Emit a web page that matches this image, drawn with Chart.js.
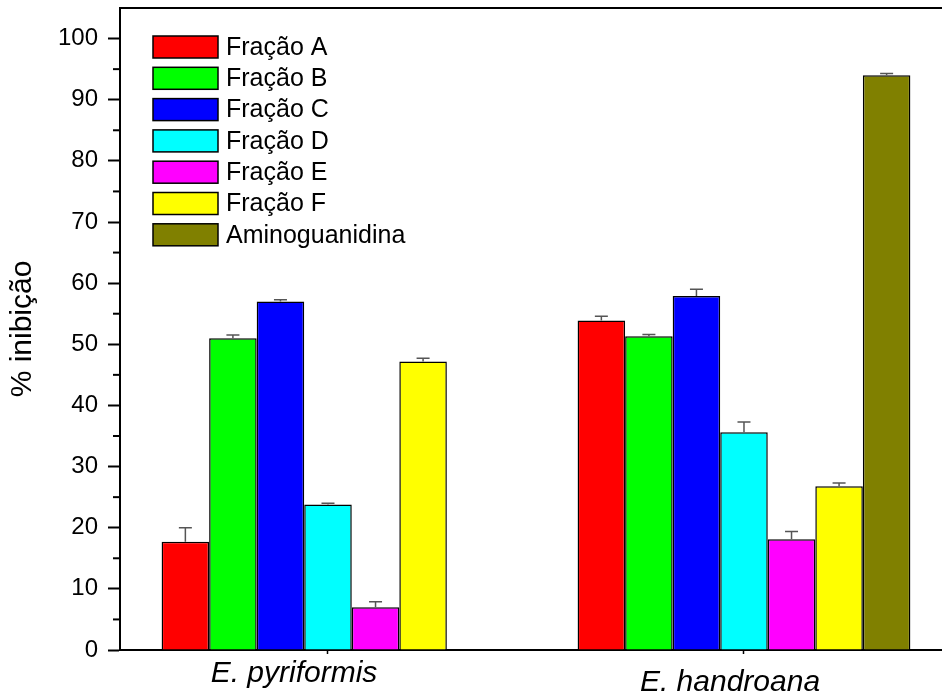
<!DOCTYPE html>
<html>
<head>
<meta charset="utf-8">
<script src="https://cdn.jsdelivr.net/npm/chart.js@4.4.0/dist/chart.umd.min.js"></script>
<style>
  body { margin: 0; background: #fff; }
  #wrap { width: 942px; height: 696px; position: relative; }
</style>
</head>
<body>
<div id="wrap"><canvas id="chart"></canvas></div>
<script>
// categories on the x axis
const species = ["E. pyriformis", "E. handroana"]

// one series per fraction (% inhibition) and its error (upper bar only)
const seriesNames = ["Fração A", "Fração B", "Fração C", "Fração D", "Fração E", "Fração F", "Aminoguanidina"]
const fracaoA = [17.7, 53.9]
const fracaoB = [51.0, 51.3]
const fracaoC = [57.0, 57.9]
const fracaoD = [23.8, 35.6]
const fracaoE = [7.0, 18.1]
const fracaoF = [47.2, 26.8]
const aminoguanidina = [null, 94.0]

const errA = [2.3, 0.7]
const errB = [0.5, 0.3]
const errC = [0.3, 1.1]
const errD = [0.2, 1.7]
const errE = [0.9, 1.3]
const errF = [0.5, 0.5]
const errAmino = [null, 0.3]

const yTicks = [0, 10, 20, 30, 40, 50, 60, 70, 80, 90, 100]

const values = [fracaoA, fracaoB, fracaoC, fracaoD, fracaoE, fracaoF, aminoguanidina]
const errors = [errA, errB, errC, errD, errE, errF, errAmino]
const colors = ["#ff0000", "#00ff00", "#0000ff", "#00ffff", "#ff00ff", "#ffff00", "#808000"]

const FONT = "'Liberation Sans', Arial, sans-serif"

const datasets = seriesNames.map((name, k) => ({
  label: name,
  data: values[k].map((v, i) => ({ x: i, y: v })),
  errors: errors[k],
  backgroundColor: colors[k],
  borderColor: "#000",
  borderWidth: 1.5,
  barPercentage: 1.0,
  categoryPercentage: 0.8
}))

// upper error bars
const errorBars = {
  id: "errorBars",
  afterDatasetsDraw(chart) {
    const ctx = chart.ctx
    const y = chart.scales.y
    ctx.save()
    ctx.strokeStyle = "#555"
    ctx.lineWidth = 1.5
    chart.data.datasets.forEach((ds, k) => {
      const meta = chart.getDatasetMeta(k)
      meta.data.forEach((bar, i) => {
        const v = ds.data[i].y
        const e = ds.errors[i]
        if (v == null || e == null) return
        const top = y.getPixelForValue(v + e)
        ctx.beginPath()
        ctx.moveTo(bar.x, bar.y)
        ctx.lineTo(bar.x, top)
        ctx.moveTo(bar.x - 6.5, top)
        ctx.lineTo(bar.x + 6.5, top)
        ctx.stroke()
      })
    })
    ctx.restore()
  }
}

// frame top, minor ticks, category labels, legend
const decor = {
  id: "decor",
  afterDraw(chart, args, opts) {
    const ctx = chart.ctx
    const area = chart.chartArea
    const y = chart.scales.y
    const x = chart.scales.x
    ctx.save()
    ctx.strokeStyle = "#000"
    ctx.lineWidth = 2
    ctx.beginPath()
    ctx.moveTo(area.left - 1, area.top)
    ctx.lineTo(area.right, area.top)
    ctx.stroke()

    ctx.lineWidth = 2
    for (let v = 5; v < 100; v += 10) {
      const py = y.getPixelForValue(v)
      ctx.beginPath()
      ctx.moveTo(area.left - 7, py)
      ctx.lineTo(area.left, py)
      ctx.stroke()
    }

    ctx.fillStyle = "#000"
    ctx.font = "italic 30px " + FONT
    ctx.textAlign = "center"
    ctx.textBaseline = "alphabetic"
    species.forEach((s, i) => {
      ctx.fillText(s, x.getPixelForValue(i) + opts.labelDx[i], area.bottom + opts.labelDy[i])
    })

    ctx.font = "25px " + FONT
    ctx.textAlign = "left"
    ctx.textBaseline = "middle"
    ctx.lineWidth = 1.5
    chart.data.datasets.forEach((ds, k) => {
      const cy = opts.legendTop + k * opts.legendStep
      ctx.fillStyle = ds.backgroundColor
      ctx.fillRect(opts.legendX, cy - 11, 65, 22)
      ctx.strokeRect(opts.legendX, cy - 11, 65, 22)
      ctx.fillStyle = "#000"
      ctx.fillText(ds.label, opts.legendX + 73, cy + 1)
    })
    ctx.restore()
  }
}

new Chart(document.getElementById("chart"), {
  type: "bar",
  data: { datasets },
  plugins: [errorBars, decor],
  options: {
    responsive: true,
    maintainAspectRatio: false,
    animation: false,
    layout: { padding: { top: 8, bottom: 42, left: 0, right: 0 } },
    plugins: {
      legend: { display: false },
      tooltip: { enabled: false },
      decor: {
        labelDx: [-34, -14],
        labelDy: [32, 41],
        legendX: 153,
        legendTop: 47,
        legendStep: 31.3
      }
    },
    scales: {
      x: {
        type: "linear",
        offset: false,
        min: -0.5,
        max: 1.476,
        afterBuildTicks: s => { s.ticks = species.map((_, i) => ({ value: i })) },
        afterFit: s => { s.paddingLeft = 0; s.paddingRight = 0 },
        ticks: { display: false },
        grid: { offset: false, drawOnChartArea: false, tickLength: 4, color: "#000", tickWidth: 1.5 },
        border: { color: "#000", width: 2 }
      },
      y: {
        min: 0,
        max: 105,
        afterBuildTicks: s => { s.ticks = yTicks.map(v => ({ value: v })) },
        afterFit: s => { s.width = 120; s.paddingTop = 0; s.paddingBottom = 0 },
        ticks: {
          padding: 10,
          color: "#000",
          font: { family: FONT, size: 24 }
        },
        grid: { drawOnChartArea: false, tickLength: 12, color: "#000", tickWidth: 2 },
        border: { color: "#000", width: 2 },
        title: {
          display: true,
          text: "% inibição",
          color: "#000",
          font: { family: FONT, size: 30 },
          padding: { top: 5 }
        }
      }
    }
  }
})
</script>
</body>
</html>
